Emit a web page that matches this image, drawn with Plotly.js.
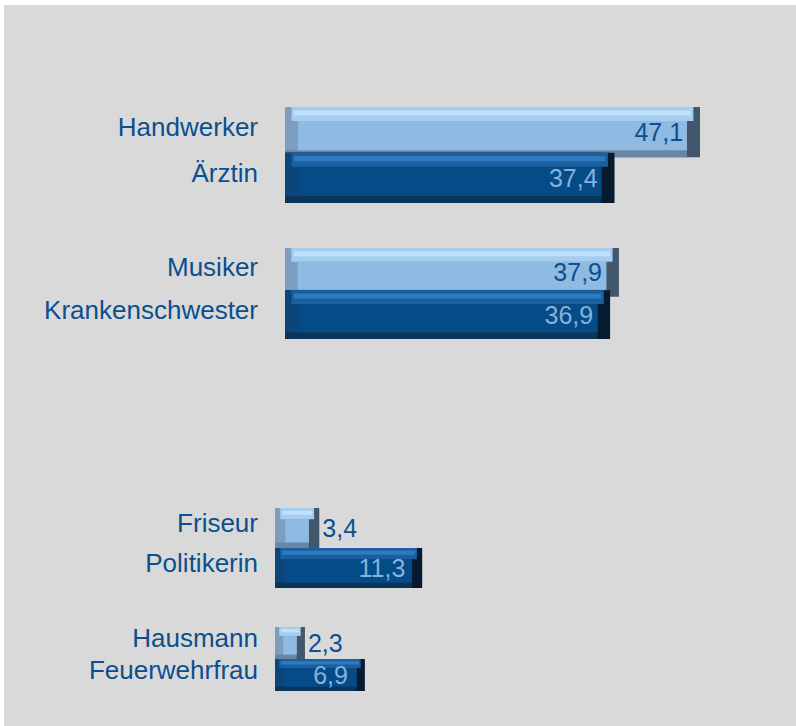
<!DOCTYPE html>
<html><head><meta charset="utf-8">
<script src="https://cdn.plot.ly/plotly-3.0.1.min.js"></script>
<style>html,body{margin:0;padding:0;background:#fff;width:796px;height:726px;overflow:hidden}
#chart{position:absolute;left:4px;top:5px;width:792px;height:721px}</style>
</head><body><div id="chart"></div>
<script>
// ---- data ----
const lightCategories = ['Handwerker', 'Musiker', 'Friseur', 'Hausmann'];
const lightValues = [47.1, 37.9, 3.4, 2.3];
const darkCategories = ['Ärztin', 'Krankenschwester', 'Politikerin', 'Feuerwehrfrau'];
const darkValues = [37.4, 36.9, 11.3, 6.9];

// ---- layout geometry (pixels inside the plot div) ----
const W = 792, H = 721;
const panels = [
  {xa: 'x',  ya: 'y',  top: 102, bottom: 198, barW: 1.1,  xLeft: 281, xMax: 58, standoff: 26},
  {xa: 'x',  ya: 'y2', top: 243, bottom: 334, barW: 1.15, xLeft: 281, xMax: 58, standoff: 26},
  {xa: 'x2', ya: 'y3', top: 503, bottom: 583, barW: 1.0,  xLeft: 271, xMax: 40, standoff: 16},
  {xa: 'x2', ya: 'y4', top: 622, bottom: 686, barW: 1.0,  xLeft: 271, xMax: 40, standoff: 16}
];

const styles = {
  light: {right: '#42566c', bottom: '#6887a6', left: '#7d9ec0', top: '#a6cdef', shine: '#bfe3fd', face: '#8fbae2', text: '#0b4f8f'},
  dark:  {right: '#061b2f', bottom: '#0b3459', left: '#0c4579', top: '#1b5f9f', shine: '#2d7bc2', face: '#054b87', text: '#86b1dc'}
};
const labelColor = '#0b4f8f';
const FONT = 'Liberation Sans, Arial, sans-serif';

const traces = [];
function bevelBar(cat, v, st, p) {
  const pxPerCat = (p.bottom - p.top) / (1 + p.barW);
  const pxPerX = (W - p.xLeft) / p.xMax;
  const hPx = p.barW * pxPerCat;
  const eX = Math.min(0.26 * hPx, v * pxPerX * 0.3) / pxPerX;
  const tU = 0.28 * p.barW, bU = 0.14 * p.barW;
  const half = p.barW / 2;
  const common = {type: 'bar', orientation: 'h', y: [cat], xaxis: p.xa, yaxis: p.ya,
                  hoverinfo: 'skip', showlegend: false};
  const add = (x, base, off, wid, col) => traces.push(Object.assign({}, common, {
    x: [x], base: [base], offset: off, width: wid, marker: {color: col, line: {width: 0}}}));
  add(v, 0, -half, p.barW, st.right);
  add(v - eX, 0, -half, p.barW, st.bottom);
  add(v - eX, 0, -half, p.barW - bU, st.left);
  add(v - eX, 0.5 * eX, -half, tU, st.top);
  add(v - 1.4 * eX, 0.7 * eX, -half + tU * 0.25, tU * 0.35, st.shine);
  add(v - 2 * eX, eX, -half + tU, p.barW - tU - bU, st.face);
}

panels.forEach((p, i) => {
  bevelBar(lightCategories[i], lightValues[i], styles.light, p);
  bevelBar(darkCategories[i], darkValues[i], styles.dark, p);
  const vals = [lightValues[i], darkValues[i]];
  const small = vals.map(v => v * (W - p.xLeft) / p.xMax < 60);
  traces.push({
    type: 'bar', orientation: 'h', xaxis: p.xa, yaxis: p.ya,
    y: [lightCategories[i], darkCategories[i]], x: vals,
    width: p.barW, marker: {color: 'rgba(0,0,0,0)', line: {width: 0}},
    texttemplate: '%{x:.1f}\u00a0\u00a0',
    textposition: small.map(s => s ? 'outside' : 'inside'),
    insidetextanchor: 'end', constraintext: 'none', cliponaxis: false,
    textfont: {family: FONT, size: 25,
               color: small.map((s, k) => s ? labelColor : (k === 0 ? styles.light.text : styles.dark.text))},
    hoverinfo: 'skip', showlegend: false
  });
});

const layout = {
  width: W, height: H,
  margin: {l: 0, r: 0, t: 0, b: 0, pad: 0},
  paper_bgcolor: '#d9d9d9', plot_bgcolor: 'rgba(0,0,0,0)',
  barmode: 'overlay', separators: ',.', showlegend: false,
  font: {family: FONT, color: labelColor}
};
const axNames = {x: 'xaxis', x2: 'xaxis2', y: 'yaxis', y2: 'yaxis2', y3: 'yaxis3', y4: 'yaxis4'};
layout.xaxis = {domain: [281 / W, 1], range: [0, 58], visible: false, anchor: 'y', fixedrange: true};
layout.xaxis2 = {domain: [271 / W, 1], range: [0, 40], visible: false, anchor: 'y3', fixedrange: true};
panels.forEach((p, i) => {
  layout[axNames[p.ya]] = {
    domain: [(H - p.bottom) / H, (H - p.top) / H],
    anchor: p.xa, type: 'category', categoryorder: 'array',
    categoryarray: [lightCategories[i], darkCategories[i]],
    range: [1 + p.barW / 2, -p.barW / 2],
    showgrid: false, zeroline: false, showline: false, ticks: '',
    tickfont: {family: FONT, size: 26, color: labelColor},
    ticklabelstandoff: p.standoff, ticklabelshift: 5, fixedrange: true
  };
});

Plotly.newPlot('chart', traces, layout, {staticPlot: true, displayModeBar: false});
</script></body></html>
